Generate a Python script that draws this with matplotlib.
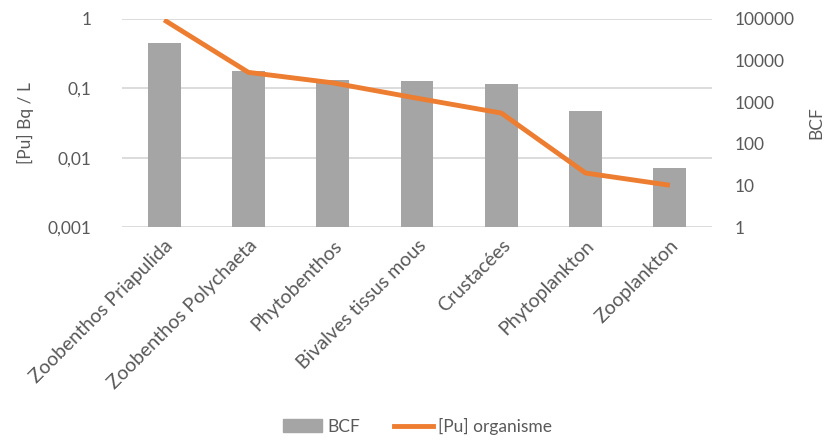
import numpy as np
import matplotlib
matplotlib.use("Agg")
import matplotlib.pyplot as plt
from matplotlib.patches import Patch
from matplotlib.lines import Line2D

categories = ["Zoobenthos Priapulida", "Zoobenthos Polychaeta", "Phytobenthos",
              "Bivalves tissus mous", "Crustacées", "Phytoplankton", "Zooplankton"]
bcf = [26000, 5500, 3500, 3200, 2700, 600, 25]
pu_organisme = [0.97, 0.17, 0.12, 0.072, 0.044, 0.006, 0.004]

left_ticks = [0.001, 0.01, 0.1, 1]
left_labels = ["0,001", "0,01", "0,1", "1"]
right_ticks = [1, 10, 100, 1000, 10000, 100000]
right_labels = ["1", "10", "100", "1000", "10000", "100000"]

plt.rcParams['font.family'] = ['Lato', 'DejaVu Sans']
text_color = "#595959"
grid_color = "#D9D9D9"

fig = plt.figure(figsize=(8.27, 4.48), dpi=100)
ax = fig.add_axes([0.1475, 0.4933, 0.861 - 0.1475, 0.9576 - 0.4933])
ax2 = ax.twinx()

x = np.arange(len(categories))

# left axis: [Pu] scale + gridlines
ax.set_yscale("log")
ax.set_ylim(0.001, 1)
ax.set_yticks(left_ticks)
ax.set_yticklabels(left_labels)
ax.minorticks_off()
ax.grid(axis="y", color=grid_color, linewidth=1.3)
ax.set_axisbelow(True)
ax.set_xlim(-0.5, len(categories) - 0.5)
ax.set_xticks(x)
ax.set_xticklabels(categories, rotation=45, ha="right", rotation_mode="anchor")
ax.tick_params(axis="both", length=0, labelsize=12.5, colors=text_color)
ax.tick_params(axis="x", labelsize=14, pad=7)
ax.tick_params(axis="y", pad=22)
ax.set_ylabel("[Pu] Bq / L", fontsize=12.5, color=text_color, labelpad=10)

# right axis: BCF bars
ax2.set_yscale("log")
ax2.bar(x, bcf, width=0.39, color="#A5A5A5", bottom=1, zorder=2)
ax2.set_ylim(1, 100000)
ax2.set_yticks(right_ticks)
ax2.set_yticklabels(right_labels)
ax2.minorticks_off()
ax2.tick_params(axis="y", length=0, labelsize=12.5, colors=text_color, pad=16)
ax2.set_ylabel("BCF", fontsize=12.5, color=text_color, labelpad=10)

# line drawn above the bars but in the left-axis scale
ax2.plot(x, pu_organisme, color="#ED7D31", linewidth=3.5, transform=ax.transData,
         zorder=3, solid_capstyle="butt")
ax2.set_ylim(1, 100000)

for a in (ax, ax2):
    for s in a.spines.values():
        s.set_visible(False)

handles = [Patch(color="#A5A5A5"), Line2D([0], [0], color="#ED7D31", linewidth=3.5)]
fig.legend(handles, ["BCF", "[Pu] organisme"], loc="lower center", ncol=2,
           frameon=False, bbox_to_anchor=(0.505, -0.005), fontsize=12.5,
           labelcolor=text_color, handlelength=2.2, handletextpad=0.3, columnspacing=2.0)

fig.savefig("out.png", dpi=100)
